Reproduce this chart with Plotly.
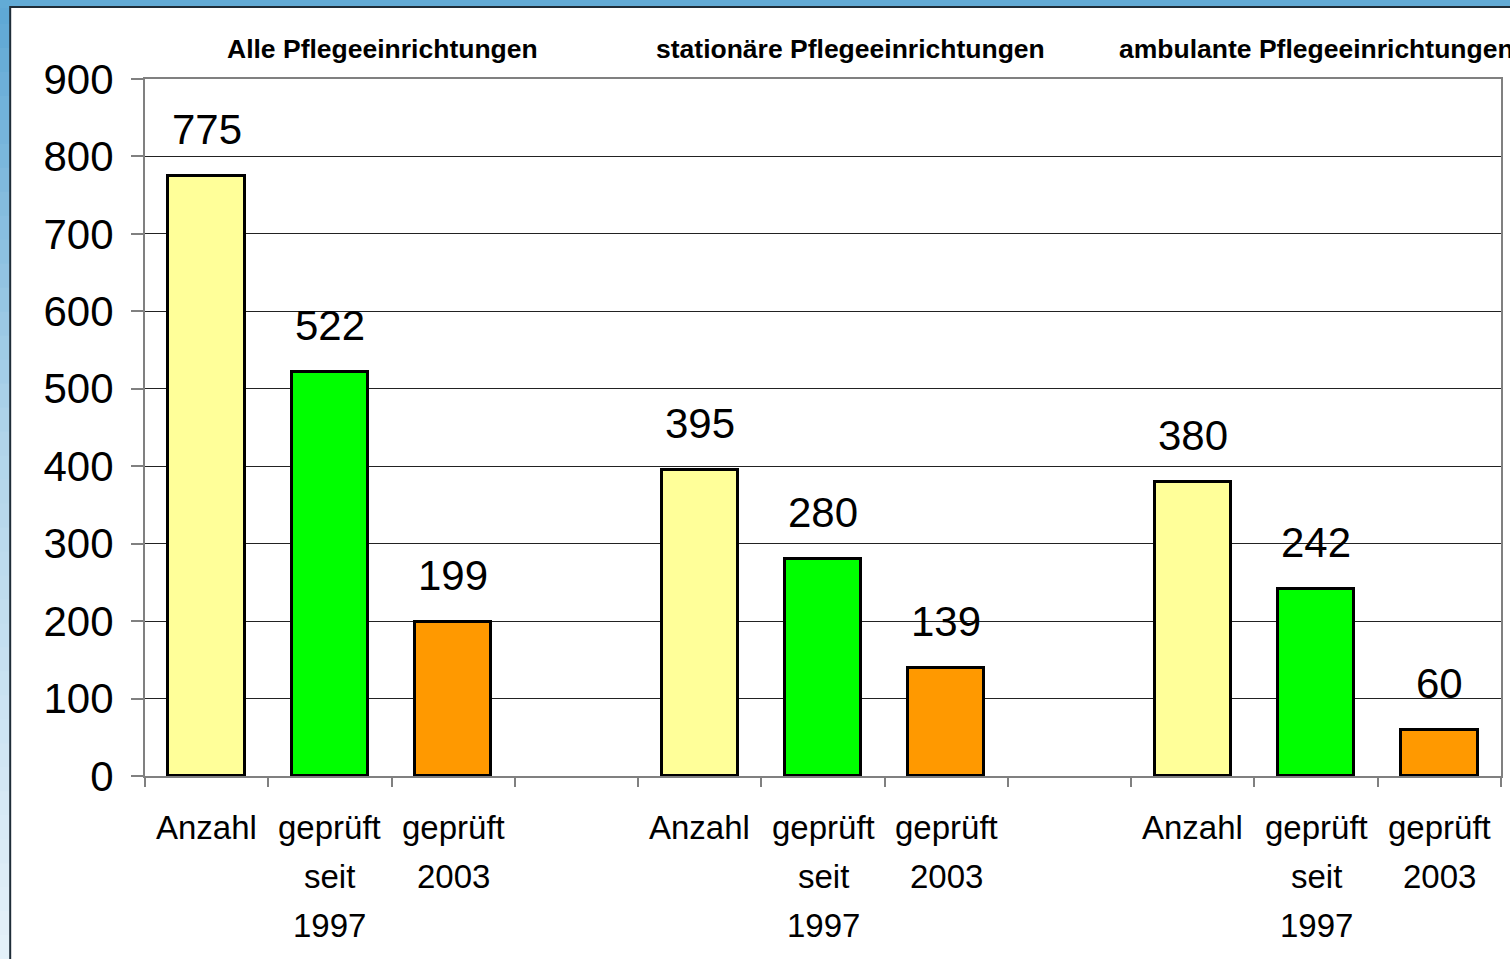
import plotly.graph_objects as go

# ---------------- data ----------------
groups = ["Alle Pflegeeinrichtungen", "stationäre Pflegeeinrichtungen", "ambulante Pflegeeinrichtungen"]
categories = ["Anzahl", "geprüft<br>seit<br>1997", "geprüft<br>2003"]
anzahl = [775, 395, 380]
geprueft_seit_1997 = [522, 280, 242]
geprueft_2003 = [199, 139, 60]
series = [anzahl, geprueft_seit_1997, geprueft_2003]
y_ticks = [0, 100, 200, 300, 400, 500, 600, 700, 800, 900]

# ---------------- style / layout ----------------
colors = ["#FFFF99", "#00FF00", "#FF9900"]
FONT = "Liberation Sans, Arial, sans-serif"
W, H = 1510, 959
PL, PR, PT, PB = 145, 1503, 79, 776
PW, PH = PR - PL, PB - PT
SLOTS_PER_GROUP = 4  # 3 bars + 1 gap


def px_x(px):
    return (px - PL) / PW


def px_y(py):
    return (PB - py) / PH


fig = go.Figure()

for si, vals in enumerate(series):
    xs = [g * SLOTS_PER_GROUP + si for g in range(len(groups))]
    fig.add_trace(go.Bar(
        x=xs, y=vals, width=0.62,
        marker=dict(color=colors[si], line=dict(color="#000000", width=3)),
        showlegend=False, hoverinfo="x+y",
    ))

annotations = []
# value labels
for si, vals in enumerate(series):
    for g, v in enumerate(vals):
        annotations.append(dict(
            x=g * SLOTS_PER_GROUP + si, y=v, xref="x", yref="y",
            text=str(v), showarrow=False, yanchor="bottom", yshift=21,
            font=dict(family=FONT, size=42, color="#000000"),
        ))
# category labels (one annotation per line)
for g in range(len(groups)):
    for si, cat in enumerate(categories):
        for li, line in enumerate(cat.split("<br>")):
            annotations.append(dict(
                x=g * SLOTS_PER_GROUP + si, xref="x",
                y=px_y(807 + 49 * li), yref="paper",
                text=line, showarrow=False, yanchor="top",
                font=dict(family=FONT, size=33, color="#000000"),
            ))
# group titles
title_left_px = [225, 655, 1118]
for g, name in enumerate(groups):
    annotations.append(dict(
        x=px_x(title_left_px[g]), y=px_y(49), xref="paper", yref="paper",
        text="<b>" + name + "</b>", showarrow=False,
        xanchor="left", yanchor="middle",
        font=dict(family=FONT, size=26.5, color="#000000"),
    ))

# background: blue frame with gradient on the left, white panel
shapes = []
stops = [(0.0, (0x5d, 0xa7, 0xd5)), (0.45, (0xb0, 0xd4, 0xea)), (1.0, (0xe6, 0xf2, 0xfa))]
NB = 40
for i in range(NB):
    t = (i + 0.5) / NB
    for (t0, c0), (t1, c1) in zip(stops[:-1], stops[1:]):
        if t0 <= t <= t1:
            f = (t - t0) / (t1 - t0)
            c = tuple(int(c0[k] + (c1[k] - c0[k]) * f) for k in range(3))
            break
    y0 = H * i / NB
    y1 = H * (i + 1) / NB + 1
    shapes.append(dict(type="rect", xref="paper", yref="paper", layer="below",
                       x0=px_x(-2), x1=px_x(12), y0=px_y(y1), y1=px_y(y0),
                       fillcolor="rgb(%d,%d,%d)" % c, line=dict(width=0)))
shapes.append(dict(type="rect", xref="paper", yref="paper", layer="below",
                   x0=px_x(-2), x1=px_x(1520), y0=px_y(-2), y1=px_y(8),
                   fillcolor="#62abd6", line=dict(width=0)))
shapes.append(dict(type="rect", xref="paper", yref="paper", layer="below",
                   x0=px_x(10), x1=px_x(1530), y0=px_y(980), y1=px_y(7),
                   fillcolor="#ffffff", line=dict(color="#1f2d38", width=2)))

n_slots = SLOTS_PER_GROUP * len(groups) - 1
fig.update_layout(
    width=W, height=H,
    margin=dict(l=PL, r=W - PR, t=PT, b=H - PB, pad=0),
    paper_bgcolor="#9fcbe8",
    plot_bgcolor="rgba(0,0,0,0)",
    bargap=0,
    annotations=annotations,
    shapes=shapes,
    xaxis=dict(
        range=[-0.5, n_slots - 0.5],
        tickvals=[i - 0.5 for i in range(n_slots + 1)],
        ticktext=["" for _ in range(n_slots + 1)],
        ticks="outside", ticklen=9, tickcolor="#808080", tickwidth=2,
        showgrid=False, zeroline=False,
        showline=True, linecolor="#808080", linewidth=2, mirror=True,
    ),
    yaxis=dict(
        range=[0, 900], tickvals=y_ticks,
        ticks="outside", ticklen=12, tickcolor="#808080", tickwidth=2,
        showgrid=True, gridcolor="#222222", gridwidth=1,
        zeroline=False,
        showline=True, linecolor="#808080", linewidth=2, mirror=True,
        tickfont=dict(family=FONT, size=42, color="#000000"),
        ticklabelstandoff=9,
    ),
)

fig.write_html(
    "out.html",
    config={"displayModeBar": False},
    post_script="document.body.style.margin='0';document.body.style.overflow='hidden';",
)
